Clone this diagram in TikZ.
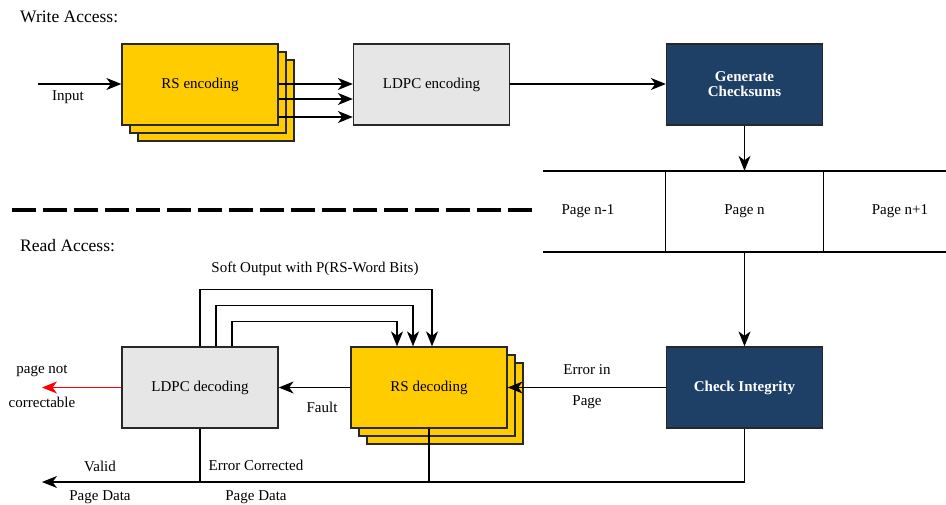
\documentclass[tikz,border=0pt]{standalone}
\usepackage{fontspec}
\setmainfont{Liberation Serif}
\usetikzlibrary{arrows.meta,calc}
\definecolor{rsyellow}{RGB}{255,204,0}
\definecolor{ldpcgray}{RGB}{230,230,230}
\definecolor{chkblue}{RGB}{30,63,102}
\definecolor{boxline}{RGB}{40,40,40}
\tikzset{
  >={Stealth[length=15pt,width=12pt,inset=4.5pt]},
  blk/.style={draw=boxline,line width=1.3pt,minimum width=156pt,minimum height=81pt,
    inner sep=0pt,font=\fontsize{15}{15}\selectfont},
  rsbox/.style={blk,fill=rsyellow},
  ldpcbox/.style={blk,fill=ldpcgray},
  chkbox/.style={blk,fill=chkblue,text=white,font=\fontsize{15}{15}\selectfont\bfseries,align=center},
  lbl/.style={font=\fontsize{15}{15}\selectfont,inner sep=0pt},
  title/.style={font=\fontsize{17.5}{18}\selectfont,inner sep=0pt,anchor=west},
  arr/.style={line width=1.1pt,->},
  ln/.style={line width=1.1pt},
}
\begin{document}
\begin{tikzpicture}[x=1pt,y=-1pt]
\useasboundingbox (0,0) rectangle (946,505);

% ---------- write path ----------
\node[title] (wa) at (20,17) {Write Access:};

\node[rsbox] (rse3) at (216,100.5) {};
\node[rsbox] (rse2) at (208,92.5) {};
\node[rsbox] (rse) at (200,84.5) {RS encoding};
\node[ldpcbox] (lde) at (431.5,84.5) {LDPC encoding};
\node[chkbox] (gen) at (744.5,84.5) {Generate\\Checksums};

\coordinate (inp) at (38,84);
\draw[arr] (inp) -- (inp -| rse.west);
\node[lbl] (inl) at (68,97) {Input};

\draw[arr] ($(rse.east)+(0,-0.5)$) -- ($(lde.west)+(0,-0.5)$);
\draw[arr] ($(rse.east)+(0,14.5)$) -- ($(lde.west)+(0,14.5)$);
\draw[arr] ($(rse.east)+(0,32.5)$) -- ($(lde.west)+(0,32.5)$);
\draw[arr] ($(lde.east)+(0,-0.5)$) -- ($(gen.west)+(0,-0.5)$);

% ---------- memory pages ----------
\node[minimum width=157pt,minimum height=81pt,inner sep=0pt,lbl] (pn) at (744.5,211.5) {Page n};
\node[lbl] (pm) at (588,211.5) {Page n-1};
\node[lbl] (pp) at (900,211.5) {Page n+1};
\draw[ln] (543,171) -- (946,171);
\draw[ln] (543,252) -- (946,252);
\draw[ln] (pn.north west) -- (pn.south west);
\draw[ln] (pn.north east) -- (pn.south east);
\draw[arr] (gen.south) -- (pn.north);

% separator
\draw[line width=4pt,dash pattern=on 23.5pt off 7.5pt] (12,210) -- (532,210);

% ---------- read path ----------
\node[title] (ra) at (20,246) {Read Access:};

\node[chkbox] (chk) at (744.5,387.5) {Check Integrity};
\node[rsbox] (rsd3) at (445,403.5) {};
\node[rsbox] (rsd2) at (437,395.5) {};
\node[rsbox] (rsd) at (429,387.5) {RS decoding};
\node[ldpcbox] (ldd) at (200,387.5) {LDPC decoding};

\draw[arr] (pn.south) -- (chk.north);
\draw[arr] (chk.west) -- (rsd.east);
\node[lbl] (eil) at (587,370) {Error in};
\node[lbl] (epl) at (587,402) {Page};

\draw[arr] (rsd.west) -- (ldd.east);
\node[lbl] (fl) at (322,407) {Fault};

\coordinate (npc) at (42,387.5);
\draw[arr,red] (ldd.west) -- (npc);
\node[lbl] (np1) at (42,371) {page not};
\node[lbl] (np2) at (42,402) {correctable};

% soft output feedback
\draw[arr] (ldd.north) -- ++(0,-57) -| ($(rsd.north)+(3,0)$);
\draw[arr] ($(ldd.north)+(16,0)$) -- ++(0,-41) -| ($(rsd.north)+(-16,0)$);
\draw[arr] ($(ldd.north)+(32,0)$) -- ++(0,-25) -| ($(rsd.north)+(-32,0)$);
\node[lbl] (sol) at (315,269) {Soft Output with P(RS-Word Bits)};

% page data output
\coordinate (pd) at (42,482);
\draw[arr] (chk.south) |- (pd);
\draw[ln] (ldd.south) -- (ldd.south |- pd);
\draw[ln] (rsd.south) -- (rsd.south |- pd);
\node[lbl] (vl) at (100,466) {Valid};
\node[lbl] (vpd) at (100,497) {Page Data};
\node[lbl] (ecl) at (256,465) {Error Corrected};
\node[lbl] (epd) at (256,497) {Page Data};
\end{tikzpicture}
\end{document}
